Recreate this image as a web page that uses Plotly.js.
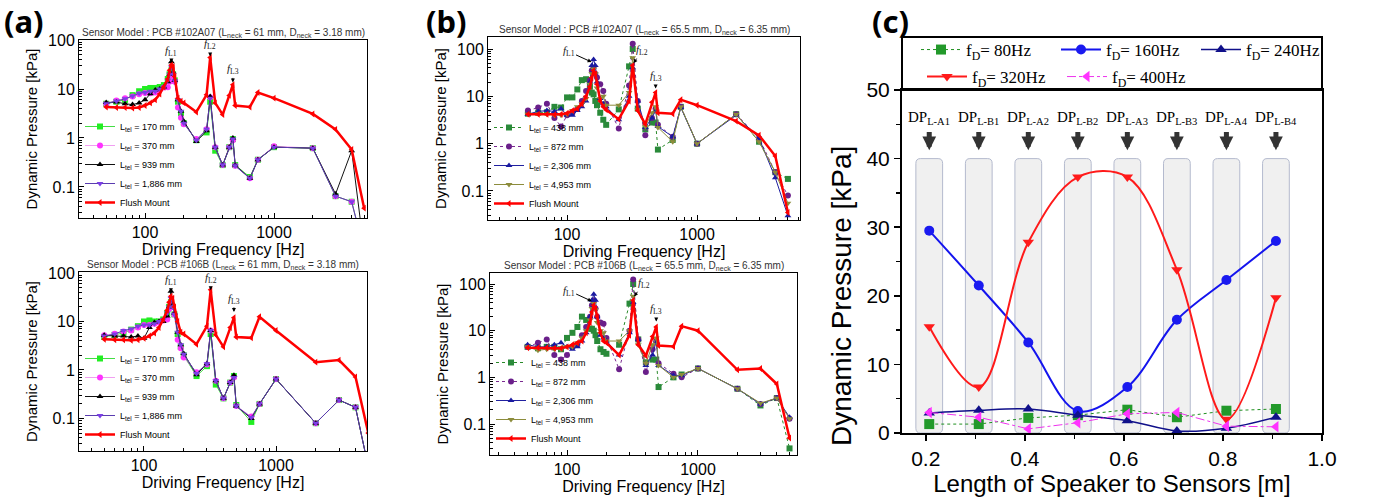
<!DOCTYPE html>
<html><head><meta charset="utf-8">
<script src="https://cdn.plot.ly/plotly-3.0.1.min.js"></script>
<style>html,body{margin:0;padding:0;background:#fff}#chart{width:1380px;height:497px}</style>
</head><body><div id="chart"></div>
<script>
// ---------- data ----------
const FREQ = [50,60,70,80,90,100,110,120,130,140,150,155,160,165,170,180,190,200,250,300,320,350,400,450,480,500,650,750,1000,2000,3000,4000,5000];

// (a) top : PCB #102A07, Lneck 61 mm
const A1_L170  = [5.0,5.5,6.0,7.5,9,10,10.5,10.5,11,12,16,20,24,20,15,5.5,3.2,2.0,0.9,1.3,5.5,0.55,0.28,0.65,0.95,0.28,0.16,0.36,0.65,0.62,0.065,0.05,0.005];
const A1_L370  = [5.0,5.8,6.5,7.0,7.8,8.3,8.2,8.5,9.5,10.7,10.8,14,20,18,14,4.2,2.6,1.9,0.95,1.5,6.8,0.65,0.28,0.65,0.9,0.27,0.15,0.36,0.68,0.62,0.065,0.05,0.005];
const A1_L939  = [5.3,5.4,5.0,4.8,5.2,6.0,8.0,9.5,10,11,14,20,36,22,15,6.0,3.5,2.2,0.85,1.4,7,0.65,0.28,0.65,1.0,0.28,0.15,0.36,0.65,0.62,0.072,0.55,0.005];
const A1_L1886 = [5.0,5.7,6.3,7.2,8.2,8.5,9,9,10,11,15,20,28,20,14.7,6,3.5,2.0,0.9,1.5,6.5,0.65,0.28,0.65,0.95,0.27,0.15,0.36,0.65,0.62,0.065,0.05,0.005];
const A1_FLUSH = [4.3,4.2,4.2,4.1,4.2,4.6,5.2,6.0,7.9,11,16,24,31,29,18,6.5,5.6,5.2,3.4,7.6,44,5.2,3.0,7.4,12.2,4.6,4.3,8.5,6.5,3.1,1.5,0.58,0.037];

// (a) bottom : PCB #106B, Lneck 61 mm
const A2_L170  = [4.8,5.3,5.8,6.8,8,10,10.5,10,10,11,15,20,25,20,14,5.5,3.0,2.0,0.75,1.2,5.5,0.5,0.26,0.55,0.75,0.19,0.085,0.2,0.65,0.08,0.24,0.17,0.01];
const A2_L370  = [5.2,5.6,6.2,6.5,7.5,8.5,8.5,9,9.5,10.5,11,18,25,20,14,4.2,2.8,1.8,0.9,1.3,6.5,0.6,0.26,0.55,0.7,0.18,0.11,0.2,0.65,0.08,0.24,0.17,0.01];
const A2_L939  = [5.2,5.0,5.0,4.8,5.0,4.5,7.5,9.5,10,10,13,20,42,22,15,6.0,3.3,2.2,0.8,1.35,6.5,0.6,0.26,0.55,0.78,0.18,0.1,0.2,0.65,0.08,0.24,0.17,0.01];
const A2_L1886 = [5.0,5.5,6.5,7,8,8.5,8.5,9,10,11,15,20,30,20,14,6,3.3,2.1,0.85,1.35,6.5,0.6,0.26,0.55,0.7,0.18,0.105,0.2,0.65,0.08,0.24,0.17,0.01];
const A2_FLUSH = [4.3,4.2,4.2,4.1,4.2,4.5,5.0,5.8,7.5,11,17,25,33,30,20,10,6.0,5.5,3.4,8,45,5.3,3.0,7.5,12,4.8,4.6,12.5,6.5,1.45,1.6,0.72,0.05];

// (b) top : PCB #102A07, Lneck 65.5 mm
const B1_L438  = [4.3,4.5,4.6,6.0,5.8,9.5,9.5,14,22,23,16,12,11,8,6.5,4.5,3.2,2.5,5.3,43,100,5.5,2.0,2.8,2.8,0.75,1.2,6,1.0,4.2,1.1,0.25,0.18];
const B1_L872  = [5,5.8,7,3.5,2.3,4,4.5,5.5,8,13,22,35,40,30,25,18,13,7,2.1,17,130,8,1.5,3.5,5.5,2.5,1.4,6,1.0,4.2,1.3,0.25,0.08];
const B1_L2306 = [4.2,4.8,5,4.8,5.5,4,4,5,6,8,20,45,60,45,20,9,7,6,3.2,10,40,8,2.2,3.5,5,2.3,1.4,5.8,1.0,4.0,1.3,0.19,0.03];
const B1_L4953 = [4.2,4.3,4.2,4.0,4.0,4.2,5,6,7,9,18,30,38,30,15,9,10,6.5,6.5,12,65,5.2,2.3,4.5,6,2.2,1.1,6,1.0,4.2,1.1,0.25,0.055];
const B1_FLUSH = [4.2,4.2,4.2,4.1,4.2,4.4,5,5.5,7,10,16,25,35,30,18,8,6,5.2,3.3,8,45,5,2.6,7.5,12,4.5,4.3,8.5,6.5,3.0,1.5,0.55,0.035];

// (b) bottom : PCB #106B, Lneck 65.5 mm
const B2_L438  = [4.5,4.2,4.5,4.5,4.0,7,9,12,20,17,11,11,10,8,6,4,3.5,3.2,5,38,100,6.5,2.1,2.4,2.4,0.62,1.0,1.15,1.55,0.57,0.25,0.36,0.03];
const B2_L872  = [4.5,5.5,6.5,3,2.4,3,4.5,5,8,12,20,35,45,30,20,15,14,7,1.5,10,125,6.5,1.3,4,6,2,1.2,1.0,1.55,0.57,0.27,0.36,0.13];
const B2_L2306 = [5,4.5,4.5,5,5.5,4.5,4,4.5,6,9,20,45,60,45,20,8,7,6,3,9,40,6.5,1.8,3,6,1.8,1.1,1.1,1.55,0.57,0.27,0.36,0.14];
const B2_L4953 = [4.5,3.8,4.0,4,4.0,4.5,4.5,5.5,7,10,17,30,38,28,15,10,9,6,6,10,55,5,2,5,7,1.8,1.0,1.15,1.55,0.57,0.28,0.36,0.13];
const B2_FLUSH = [4.3,4.3,4.3,4.2,4.2,4.5,5,5.5,6,9,15,25,35,30,20,9,6,5.5,3.0,8,45,5,2.9,7.5,12,4.8,4.6,12.5,10,1.45,1.55,0.72,0.05];

// (c)
const C_LENGTH = [0.207,0.307,0.407,0.507,0.607,0.707,0.807,0.907];
const C_F80  = [1.3,1.3,2.2,2.6,3.4,2.3,3.25,3.5];
const C_F160 = [29.5,21.5,13.2,3.2,6.7,16.5,22.3,28.0];
const C_F240 = [2.9,3.3,3.5,2.6,1.8,0.3,0.7,2.3];
const C_F320 = [15.5,6.7,27.8,37.3,37.3,23.8,2.0,19.7];
const C_F400 = [3.0,2.3,0.6,1.5,2.8,3.0,1.0,0.9];

const A_NAMES = ['L<sub>tel</sub> = 170 mm','L<sub>tel</sub> = 370 mm','L<sub>tel</sub> = 939 mm','L<sub>tel</sub> = 1,886 mm','Flush Mount'];
const B_NAMES = ['L<sub>tel</sub> = 438 mm','L<sub>tel</sub> = 872 mm','L<sub>tel</sub> = 2,306 mm','L<sub>tel</sub> = 4,953 mm','Flush Mount'];
const C_NAMES = ['f<sub>D</sub>= 80Hz','f<sub>D</sub>= 160Hz','f<sub>D</sub>= 240Hz','f<sub>D</sub>= 320Hz','f<sub>D</sub>= 400Hz'];
const DP_LABELS = ['L-A1','L-B1','L-A2','L-B2','L-A3','L-B3','L-A4','L-B4'];
const PANEL_TITLES = [
  'Sensor Model : PCB #102A07 (L<sub>neck</sub> = 61 mm, D<sub>neck</sub> = 3.18 mm)',
  'Sensor Model : PCB #106B (L<sub>neck</sub> = 61 mm, D<sub>neck</sub> = 3.18 mm)',
  'Sensor Model : PCB #102A07 (L<sub>neck</sub> = 65.5 mm, D<sub>neck</sub> = 6.35 mm)',
  'Sensor Model : PCB #106B (L<sub>neck</sub> = 65.5 mm, D<sub>neck</sub> = 6.35 mm)'
];

// ---------- styles ----------
const SANS = 'Liberation Sans, Arial, sans-serif';
const SERIF = 'Liberation Serif, Times New Roman, serif';
const A_STYLES = [
  {lc:'#44dd44', lw:1, sym:'square', mc:'#22ee22'},
  {lc:'rgba(230,80,230,0.55)', lw:1, sym:'circle', mc:'#ff33ff'},
  {lc:'#111111', lw:1, sym:'triangle-up', mc:'#000000'},
  {lc:'#5a3cb0', lw:1, sym:'triangle-down', mc:'#7b3fe4'},
  {lc:'#ff0000', lw:2.5, sym:'triangle-left', mc:'#ff0000'}
];
const B_STYLES = [
  {lc:'#2a8a2a', lw:1, dash:'dot', sym:'square', mc:'#2a8a3a'},
  {lc:'#7a2a90', lw:1, dash:'dot', sym:'circle', mc:'#6a1f8a'},
  {lc:'#2020a0', lw:1, sym:'triangle-up', mc:'#1a1aa0'},
  {lc:'#8c8c3c', lw:1, sym:'triangle-down', mc:'#8c8c3c'},
  {lc:'#ff0000', lw:2.5, sym:'triangle-left', mc:'#ff0000'}
];

function sensorTrace(k, leg, name, y, st) {
  const s = k === 1 ? '' : String(k);
  return {type:'scatter', mode:'lines+markers', x:FREQ, y:y, xaxis:'x'+s, yaxis:'y'+s, legend:leg, name:name,
    line:{color:st.lc, width:st.lw, dash:st.dash||'solid'},
    marker:{symbol:st.sym, size:6, color:st.mc, line:{width:0}}};
}

const traces = [];
[[A1_L170,A1_L370,A1_L939,A1_L1886,A1_FLUSH],[A2_L170,A2_L370,A2_L939,A2_L1886,A2_FLUSH]].forEach((set,pi)=>{
  set.forEach((y,i)=>traces.push(sensorTrace(pi+1, pi===0?'legend':'legend2', A_NAMES[i], y, A_STYLES[i])));
});
[[B1_L438,B1_L872,B1_L2306,B1_L4953,B1_FLUSH],[B2_L438,B2_L872,B2_L2306,B2_L4953,B2_FLUSH]].forEach((set,pi)=>{
  set.forEach((y,i)=>traces.push(sensorTrace(pi+3, pi===0?'legend3':'legend4', B_NAMES[i], y, B_STYLES[i])));
});

const C_STYLES = [
  {y:C_F80,  color:'#1f8f1f', lw:1,   dash:'dot',     shape:'linear', sym:'square',        mc:'#22992a', leg:'legend5'},
  {y:C_F160, color:'#1414ee', lw:2,   dash:'solid',   shape:'spline', sym:'circle',        mc:'#1a1af0', leg:'legend5'},
  {y:C_F240, color:'#10108a', lw:1.5, dash:'solid',   shape:'spline', sym:'triangle-up',   mc:'#10108a', leg:'legend5'},
  {y:C_F320, color:'#ff1a1a', lw:2,   dash:'solid',   shape:'spline', sym:'triangle-down', mc:'#ff1a1a', leg:'legend6'},
  {y:C_F400, color:'#ee33ee', lw:1,   dash:'dashdot', shape:'linear', sym:'triangle-left', mc:'#ff33ff', leg:'legend6'}
];
C_STYLES.forEach((st,i)=>{
  traces.push({type:'scatter', mode:'lines+markers', x:C_LENGTH, y:st.y, xaxis:'x5', yaxis:'y5', legend:st.leg, name:C_NAMES[i],
    line:{color:st.color, width:st.lw, dash:st.dash, shape:st.shape},
    marker:{symbol:st.sym, size:10, color:st.mc, line:{width:0}}});
});

// ---------- axes ----------
const W = 1380, H = 497;
const px = (a,b)=>[a/W, b/W];
const py = (top,bot)=>[1-bot/H, 1-top/H];
function logAx(dom, rng, anchor, title, isX) {
  return {domain:dom, range:rng, type:'log', anchor:anchor, showline:true, linecolor:'#000', linewidth:1, mirror:true,
    ticks:'inside', ticklen:5, tickwidth:1, tickcolor:'#000', dtick:1, exponentformat:'none', showgrid:false, zeroline:false,
    tickfont:{family:SANS, size:16, color:'#000'},
    minor:{ticks:'inside', ticklen:3, dtick:'D1', tickcolor:'#000'},
    title:{text:title, font:{family:SANS, size:isX?16:15, color:'#000'}, standoff:isX?0:6}};
}
const XT = 'Driving Frequency [Hz]', YT = 'Dynamic Pressure [kPa]';

const layout = {
  width:W, height:H, margin:{l:0,r:0,t:0,b:0}, paper_bgcolor:'#fff', plot_bgcolor:'rgba(0,0,0,0)',
  font:{family:SANS, color:'#000'},
  xaxis: logAx(px(79,367), [1.488,3.721], 'y', XT, true),
  yaxis: logAx(py(40,218), [-1.633,2.0], 'x', YT, false),
  xaxis2: logAx(px(79,367), [1.508,3.689], 'y2', XT, true),
  yaxis2: logAx(py(272,451), [-1.67,2.02], 'x2', YT, false),
  xaxis3: logAx(px(488,800), [1.392,3.792], 'y3', XT, true),
  yaxis3: logAx(py(37,220), [-1.613,2.254], 'x3', YT, false),
  xaxis4: logAx(px(490,797), [1.412,3.756], 'y4', XT, true),
  yaxis4: logAx(py(273,455), [-1.664,2.236], 'x4', YT, false),
  xaxis5: {domain:px(902,1322), range:[0.152,1.0], anchor:'y5', showline:true, linecolor:'#000', linewidth:2, mirror:true,
    ticks:'outside', ticklen:6, tickwidth:1.5, tickcolor:'#000', tick0:0, dtick:0.2, tickformat:'.1f', showgrid:false, zeroline:false,
    tickfont:{family:SANS, size:21, color:'#000'}, minor:{ticks:'outside', ticklen:4, dtick:0.1, tickcolor:'#000'},
    title:{text:'Length of Speaker to Sensors [m]', font:{family:SANS, size:24, color:'#000'}, standoff:8}},
  yaxis5: {domain:py(90,433), range:[0,50], anchor:'x5', showline:true, linecolor:'#000', linewidth:2, mirror:true,
    ticks:'outside', ticklen:6, tickwidth:1.5, tickcolor:'#000', dtick:10, showgrid:false, zeroline:false,
    tickfont:{family:SANS, size:21, color:'#000'}, minor:{ticks:'outside', ticklen:4, dtick:5, tickcolor:'#000'}},
  showlegend:true,
  shapes:[], annotations:[]
};

function smallLeg(x, y) {
  return {x:x/W, y:1-y/H, xanchor:'left', yanchor:'bottom', bgcolor:'rgba(0,0,0,0)', borderwidth:0,
    font:{family:SANS, size:9, color:'#000'}, tracegroupgap:0, itemwidth:30};
}
layout.legend  = smallLeg(80, 217);
layout.legend2 = smallLeg(80, 449);
layout.legend3 = smallLeg(489, 218);
layout.legend4 = smallLeg(491, 453);
const cLeg = (y, x)=>({orientation:'h', x:x/W, xanchor:'left', y:1-y/H, yanchor:'middle', bgcolor:'rgba(0,0,0,0)', borderwidth:0,
  font:{family:SERIF, size:17, color:'#000'}, entrywidth:85, itemwidth:40});
layout.legend5 = cLeg(50, 916);
layout.legend6 = cLeg(77, 922);

// y title of (c), placed as in the reference (lower than the axis centre)
layout.annotations.push({xref:'paper', yref:'paper', x:841/W, y:1-296/H, textangle:-90, showarrow:false,
  text:'Dynamic Pressure [kPa]', font:{family:SANS, size:28, color:'#000'}});

// legend box for (c)
layout.shapes.push({type:'rect', xref:'paper', yref:'paper', x0:902/W, x1:1322/W, y0:1-90/H, y1:1-37/H,
  line:{color:'#000', width:2}, fillcolor:'rgba(0,0,0,0)'});

// sensor columns in (c)
const HW = 0.027, RX = 0.009, RY = 0.7;
C_LENGTH.forEach(c=>{
  const x0 = c-HW, x1 = c+HW, t = 40, b = 0;
  const p = `M${x0},${b+RY} L${x0},${t-RY} Q${x0},${t} ${x0+RX},${t} L${x1-RX},${t} Q${x1},${t} ${x1},${t-RY} L${x1},${b+RY} Q${x1},${b} ${x1-RX},${b} L${x0+RX},${b} Q${x0},${b} ${x0},${b+RY} Z`;
  layout.shapes.push({type:'path', xref:'x5', yref:'y5', path:p, fillcolor:'#f0f0f0', line:{color:'#b4bace', width:1}, layer:'below'});
});

// DP labels and arrows
C_LENGTH.forEach((c,i)=>{
  layout.annotations.push({xref:'x5', yref:'y5', x:c, y:45.9, text:'DP<sub>'+DP_LABELS[i]+'</sub>', showarrow:false,
    font:{family:SERIF, size:15, color:'#000'}});
  layout.annotations.push({xref:'x5', yref:'y5', x:c, y:41.2, axref:'x5', ayref:'y5', ax:c, ay:44.1, text:'', showarrow:true,
    arrowhead:2, arrowsize:0.55, arrowwidth:5, arrowcolor:'#333'});
});

// panel titles
[['x','y'],['x2','y2'],['x3','y3'],['x4','y4']].forEach((a,i)=>{
  layout.annotations.push({xref:a[0]+' domain', yref:a[1]+' domain', x:0.5, y:1, yanchor:'bottom', yshift:-1, showarrow:false,
    text:PANEL_TITLES[i], font:{family:SANS, size:10, color:'#333'}});
});

// resonance markers f_L1..f_L3
function fL(ax, ay_, f, v, lab, dx, dy) {
  layout.annotations.push({xref:ax, yref:ay_, x:Math.log10(f), y:Math.log10(v), ax:dx, ay:dy,
    text:'<i>f</i><sub>'+lab+'</sub>', showarrow:true, arrowhead:2, arrowsize:0.8, arrowwidth:1, arrowcolor:'#000',
    font:{family:SERIF, size:11, color:'#222'}, standoff:1});
}
fL('x','y',160,33,'L1',0,-13); fL('x','y',320,44,'L2',0,-13); fL('x','y',480,13,'L3',0,-14);
fL('x2','y2',160,38,'L1',0,-13); fL('x2','y2',320,42,'L2',0,-13); fL('x2','y2',480,15,'L3',0,-14);
fL('x3','y3',157,52,'L1',-24,-11); fL('x3','y3',322,48,'L2',9,-14); fL('x3','y3',480,14,'L3',0,-13);
fL('x4','y4',157,42,'L1',-24,-11); fL('x4','y4',322,52,'L2',10,-14); fL('x4','y4',480,15,'L3',0,-13);

// panel letters
[['(a)',2],['(b)',424],['(c)',870]].forEach(p=>{
  layout.annotations.push({xref:'paper', yref:'paper', x:p[1]/W, y:1, xanchor:'left', yanchor:'top', yshift:2, showarrow:false,
    text:'<b>'+p[0]+'</b>', font:{family:'Noto Sans, Liberation Sans, sans-serif', size:31, color:'#000'}});
});

Plotly.newPlot('chart', traces, layout, {displayModeBar:false, staticPlot:true});
</script></body></html>
